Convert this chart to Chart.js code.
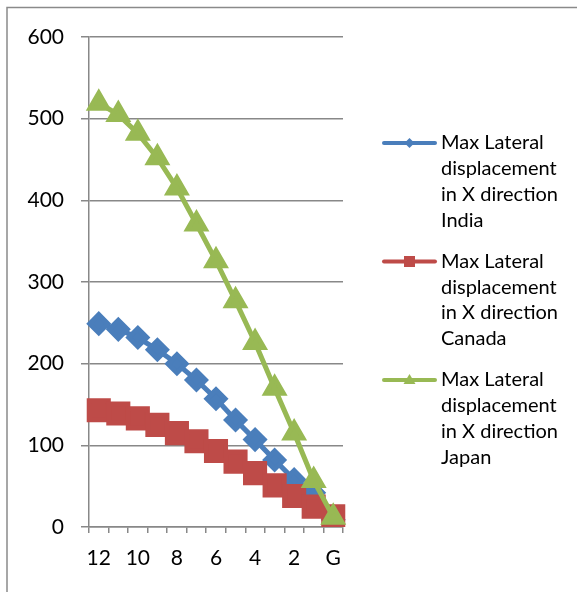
<!DOCTYPE html>
<html>
<head>
<meta charset="utf-8">
<style>
  html, body { margin: 0; padding: 0; background: #fff; }
  #wrap { position: relative; width: 577px; height: 592px; }
</style>
<script src="https://cdn.jsdelivr.net/npm/chart.js@4/dist/chart.umd.min.js"></script>
</head>
<body>
<div id="wrap"><canvas id="chart" width="577" height="592"></canvas></div>
<script>
// storeys, top floor first, G = ground
const floors = ['12', '11', '10', '9', '8', '7', '6', '5', '4', '3', '2', '1', 'G'];
const india  = [249, 242, 232, 217, 200, 180, 157, 131, 107, 82, 58, 42, 9];
const canada = [143, 139, 133, 125, 115, 105, 93, 80, 66, 51, 38, 25, 13];
const japan  = [519, 505, 482, 452, 415, 371, 326, 277, 226, 170, 115, 57, 12];
const seriesNames = [
  'Max Lateral displacement in X direction India',
  'Max Lateral displacement in X direction Canada',
  'Max Lateral displacement in X direction Japan'
];
const yMin = 0, yMax = 600, yStep = 100;

const FONT = 'Lato, "Open Sans", sans-serif';
const gridGray = '#888888';

// frame round the whole chart
const frame = {
  id: 'frame',
  beforeDraw(chart) {
    const ctx = chart.ctx;
    ctx.save();
    ctx.strokeStyle = '#8a8a8a';
    ctx.lineWidth = 1.5;
    ctx.strokeRect(7, 7.5, 700, 700);
    ctx.restore();
  }
};

function wrapText(ctx, text, maxW) {
  const words = text.split(' ');
  const lines = [];
  let cur = '';
  words.forEach(w => {
    const t = cur ? cur + ' ' + w : w;
    if (cur && ctx.measureText(t).width > maxW) {
      lines.push(cur);
      cur = w;
    } else {
      cur = t;
    }
  });
  if (cur) lines.push(cur);
  return lines;
}

// legend on the right, text wrapped like the office chart
const sideLegend = {
  id: 'sideLegend',
  afterDraw(chart) {
    const ctx = chart.ctx;
    ctx.save();
    ctx.font = '20px ' + FONT;
    ctx.textBaseline = 'middle';
    ctx.textAlign = 'left';
    chart.data.datasets.forEach((ds, i) => {
      const y = 143 + i * 118.5;
      ctx.strokeStyle = ds.borderColor;
      ctx.lineWidth = 4;
      ctx.lineCap = 'round';
      ctx.beginPath();
      ctx.moveTo(384, y);
      ctx.lineTo(435, y);
      ctx.stroke();

      ctx.fillStyle = ds.borderColor;
      const cx = 409.5;
      ctx.beginPath();
      if (ds.pointStyle === 'rectRot') {
        ctx.moveTo(cx, y - 5); ctx.lineTo(cx + 5, y); ctx.lineTo(cx, y + 5); ctx.lineTo(cx - 5, y);
      } else if (ds.pointStyle === 'rect') {
        ctx.rect(cx - 5.5, y - 5.5, 11, 11);
      } else {
        ctx.moveTo(cx, y - 6); ctx.lineTo(cx + 6, y + 4); ctx.lineTo(cx - 6, y + 4);
      }
      ctx.closePath();
      ctx.fill();

      ctx.fillStyle = '#000';
      wrapText(ctx, ds.label, 125).forEach((line, k) => {
        ctx.fillText(line, 441, y + k * 25.7);
      });
    });
    ctx.restore();
  }
};

new Chart(document.getElementById('chart').getContext('2d'), {
  type: 'line',
  data: {
    labels: floors,
    datasets: [
      {
        label: seriesNames[0],
        data: india,
        borderColor: '#4A7EBB',
        backgroundColor: '#4A7EBB',
        borderWidth: 5,
        pointStyle: 'rectRot',
        pointRadius: 9,
        order: 3
      },
      {
        label: seriesNames[1],
        data: canada,
        borderColor: '#BE4B48',
        backgroundColor: '#BE4B48',
        borderWidth: 5,
        pointStyle: 'rect',
        pointRadius: 13.5,
        order: 2
      },
      {
        label: seriesNames[2],
        data: japan,
        borderColor: '#98B954',
        backgroundColor: '#98B954',
        borderWidth: 5,
        pointStyle: 'triangle',
        pointRadius: 10,
        order: 1
      }
    ]
  },
  options: {
    responsive: false,
    animation: false,
    layout: {
      padding: { left: 0, top: 37, right: 234, bottom: 0 }
    },
    plugins: {
      legend: { display: false },
      tooltip: { enabled: false }
    },
    elements: {
      line: { tension: 0 },
      point: { borderWidth: 0 }
    },
    scales: {
      x: {
        offset: true,
        afterFit(scale) { scale.height = 65; },
        grid: {
          offset: true,
          drawOnChartArea: false,
          drawTicks: true,
          tickLength: 6,
          color: gridGray,
          lineWidth: 1.5
        },
        border: { color: gridGray, width: 1.5 },
        ticks: {
          autoSkip: false,
          maxRotation: 0,
          padding: 13,
          color: '#000',
          font: { family: FONT, size: 21 },
          callback: (v, i) => (i % 2 === 0 ? floors[i] : '')
        }
      },
      y: {
        min: yMin,
        max: yMax,
        afterFit(scale) { scale.width = 89; },
        grid: {
          color: gridGray,
          lineWidth: 1.5,
          tickLength: 8
        },
        border: { color: gridGray, width: 1.5 },
        ticks: {
          stepSize: yStep,
          padding: 17,
          color: '#000',
          font: { family: FONT, size: 21 }
        }
      }
    }
  },
  plugins: [frame, sideLegend]
});
</script>
</body>
</html>
